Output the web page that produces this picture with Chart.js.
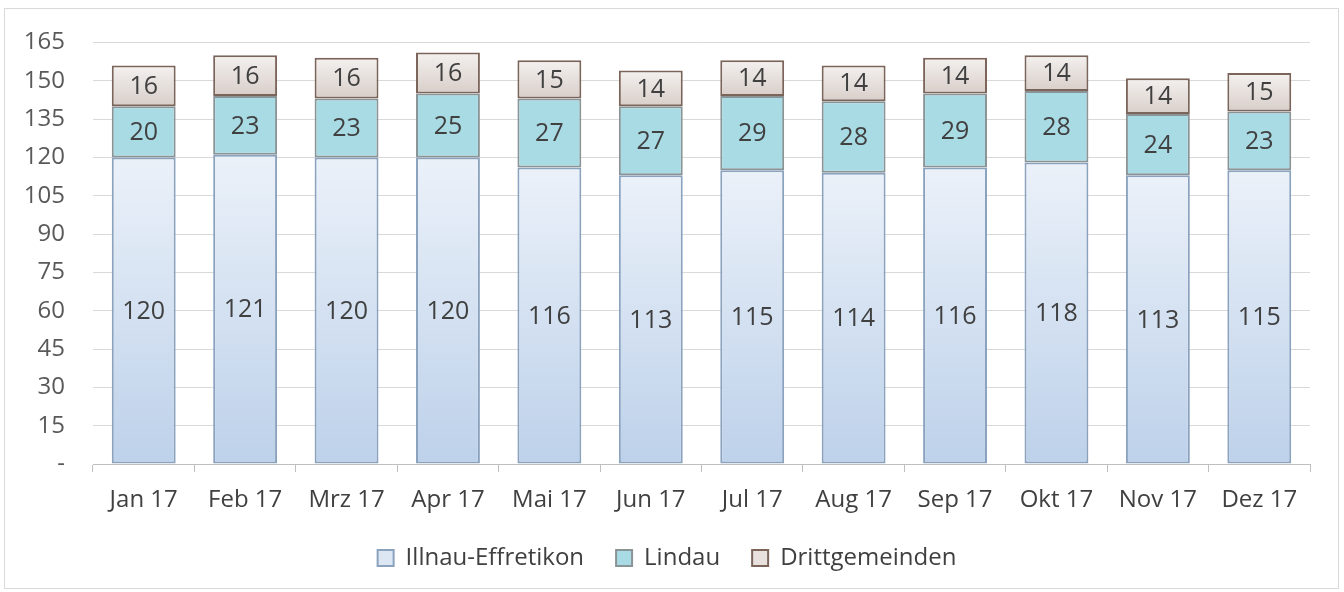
<!DOCTYPE html>
<html><head><meta charset="utf-8">
<script src="https://cdn.jsdelivr.net/npm/chart.js@4"></script>
<style>html,body{margin:0;padding:0;background:#fff}canvas{display:block}</style>
</head><body>
<div style="width:1344px;height:592px"><canvas id="c" width="1344" height="592"></canvas></div>
<script>
const categories = ['Jan 17','Feb 17','Mrz 17','Apr 17','Mai 17','Jun 17','Jul 17','Aug 17','Sep 17','Okt 17','Nov 17','Dez 17'];
const illnau = [120,121,120,120,116,113,115,114,116,118,113,115];
const lindau = [20,23,23,25,27,27,29,28,29,28,24,23];
const dritt = [16,16,16,16,15,14,14,14,14,14,14,15];
const seriesNames = ['Illnau-Effretikon','Lindau','Drittgemeinden'];
const legendFills = ['#DDE7F4', '#A9DBE5', '#E8E1DE'];

const FONT = "'Open Sans', 'Liberation Sans', sans-serif";

function grad(ctx, base, top, c1, c2, fallback) {
  const chart = ctx.chart;
  const y = chart.scales && chart.scales.y;
  if (!y || !chart.chartArea || ctx.type !== 'data') return fallback;
  const i = ctx.dataIndex;
  const b = base(i), t = top(i);
  const y0 = y.getPixelForValue(t), y1 = y.getPixelForValue(b);
  if (!isFinite(y0) || !isFinite(y1) || y0 === y1) return c2;
  const g = chart.ctx.createLinearGradient(0, y0, 0, y1);
  g.addColorStop(0, c1); g.addColorStop(1, c2);
  return g;
}

const labelPlugin = {
  id: 'segLabels',
  afterDatasetsDraw(chart) {
    const c = chart.ctx;
    c.save();
    c.font = "25px " + FONT;
    c.fillStyle = '#404040';
    c.textAlign = 'center';
    c.textBaseline = 'middle';
    chart.data.datasets.forEach((ds, di) => {
      chart.getDatasetMeta(di).data.forEach((el, i) => {
        c.fillText(String(ds.data[i]), el.x, (el.y + el.base) / 2 + 1);
      });
    });
    c.restore();
  }
};
const borderPlugin = {
  id: 'outer',
  beforeDraw(chart) {
    const c = chart.ctx;
    c.save();
    c.strokeStyle = '#D9D9D9';
    c.lineWidth = 1;
    c.strokeRect(4.5, 8.5, 1334, 580);
    c.restore();
  }
};

new Chart(document.getElementById('c'), {
  type: 'bar',
  data: {
    labels: categories,
    datasets: [
      { label: seriesNames[0], data: illnau,
        backgroundColor: ctx => grad(ctx, i => 0, i => illnau[i], '#EBF1F9', '#BDD1EA', '#DCE6F3'),
        borderColor: '#8AA2BD', borderWidth: 2, borderSkipped: false },
      { label: seriesNames[1], data: lindau,
        backgroundColor: '#A9DBE5',
        borderColor: '#8A9396', borderWidth: 2, borderSkipped: false },
      { label: seriesNames[2], data: dritt,
        backgroundColor: ctx => grad(ctx, i => illnau[i] + lindau[i], i => illnau[i] + lindau[i] + dritt[i], '#F4F1EF', '#D8CEC9', '#E8E1DE'),
        borderColor: '#7B655B', borderWidth: 2, borderSkipped: false }
    ]
  },
  options: {
    responsive: false,
    animation: false,
    layout: { padding: { left: 24, right: 34, top: 26, bottom: 12 } },
    datasets: { bar: { categoryPercentage: 1.0, barPercentage: 0.63 } },
    scales: {
      x: {
        stacked: true,
        afterFit: s => { s.height = 50; },
        grid: { display: true, drawOnChartArea: false, offset: true, tickLength: 8, color: '#BFBFBF', lineWidth: 1 },
        border: { display: true, color: '#BFBFBF', width: 1 },
        ticks: { color: '#404040', font: { size: 24, family: FONT }, padding: 14 }
      },
      y: {
        stacked: true,
        min: 0, max: 165,
        afterFit: s => { s.width = 69; },
        grid: { color: '#D9D9D9', lineWidth: 1, drawTicks: false },
        border: { display: false },
        ticks: { stepSize: 15, color: '#595959', font: { size: 24, family: FONT }, padding: 28,
          callback: v => v === 0 ? '-' : v }
      }
    },
    plugins: {
      legend: {
        position: 'bottom',
        labels: {
          color: '#404040', font: { size: 24, family: FONT },
          boxWidth: 16, boxHeight: 16, padding: 32,
          generateLabels: chart => {
            const items = Chart.defaults.plugins.legend.labels.generateLabels(chart);
            items.forEach((it, k) => { it.fillStyle = legendFills[k]; });
            return items;
          }
        }
      },
      tooltip: { enabled: false }
    }
  },
  plugins: [labelPlugin, borderPlugin]
});
</script>
</body></html>
